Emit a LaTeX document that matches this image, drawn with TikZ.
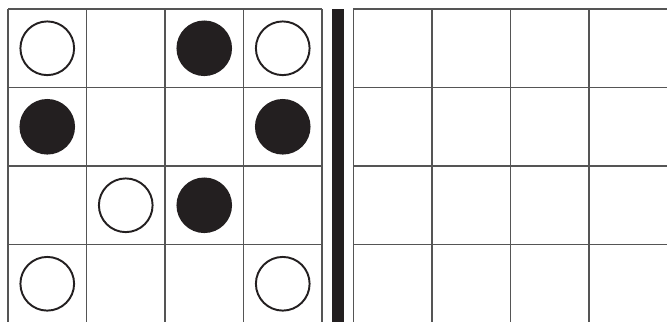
\documentclass[tikz,border=0pt]{standalone}
\definecolor{stoneblack}{HTML}{231F20}
\definecolor{gridgray}{HTML}{555555}
\begin{document}
\begin{tikzpicture}[x=2cm, y=-2cm]

  % ---------------------------------------------------------------- frame
  % one cell = 1 unit; the left board starts at (0,0), the right one at 4.4
  \useasboundingbox (-0.102,-0.115) rectangle (8.395,3.987);
  \clip (-0.102,-0.115) rectangle (8.395,3.987);

  % ----------------------------------------------------------- left board
  \foreach \x in {0,...,4}
    \draw[gridgray, line width=1pt] (\x,0) -- (\x,4.2);
  \foreach \y in {0,...,3}
    \draw[gridgray, line width=1pt] (0,\y) -- (4,\y);

  % the thick divider between the two boards
  \fill[stoneblack] (4.124,0) rectangle (4.284,4.2);

  % ---------------------------------------------------------- right board
  % empty, runs off the right edge
  \foreach \x in {0,...,4}
    \draw[gridgray, line width=1pt] (4.4+\x,0) -- (4.4+\x,4.2);
  \foreach \y in {0,...,3}
    \draw[gridgray, line width=1pt] (4.4,\y) -- (8.6,\y);

  % --------------------------------------------------------------- stones
  \foreach \c/\r in {0/0, 3/0, 1/2, 0/3, 3/3}
    \draw[stoneblack, line width=1.4pt, fill=white]
      (\c+0.5,\r+0.5) circle (0.684cm);
  \foreach \c/\r in {2/0, 0/1, 3/1, 2/2}
    \fill[stoneblack] (\c+0.5,\r+0.5) circle (0.708cm);

\end{tikzpicture}
\end{document}
